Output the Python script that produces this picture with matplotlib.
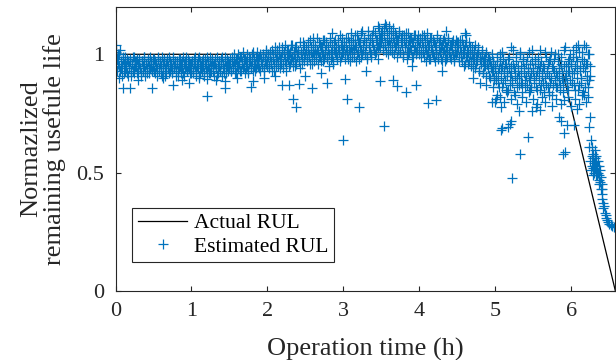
import numpy as np
import matplotlib
matplotlib.use("Agg")
import matplotlib.pyplot as plt

# ---------------- data ----------------
# Actual RUL (normalized)
actual_t = [0.0, 5.83, 6.58]
actual_rul = [1.0, 1.0, 0.0]

# Estimated RUL, main band A: one reading every 0.0125 h from 0 to 6.25 h (values in %)
band_step_h = 0.0125
band_pct = [
    # 0.0 - 0.4875
    101, 104, 98, 96, 100, 93, 97, 95, 99, 92, 96, 94, 98, 91, 95, 97, 93, 96, 99, 94,
    92, 97, 95, 98, 93, 96, 94, 91, 97, 95, 99, 93, 96, 92, 98, 95, 94, 97, 93, 96,
    # 0.5 - 0.9875
    95, 98, 92, 96, 94, 99, 93, 97, 95, 91, 96, 98, 94, 92, 97, 95, 99, 93, 96, 94,
    92, 98, 95, 97, 93, 96, 91, 94, 98, 95, 97, 92, 96, 94, 99, 93, 95, 97, 92, 96,
    # 1.0 - 1.4875
    94, 97, 92, 96, 99, 93, 95, 98, 91, 96, 94, 97, 95, 92, 98, 96, 93, 97, 94, 99,
    92, 95, 97, 93, 96, 98, 94, 91, 95, 97, 93, 96, 99, 94, 92, 97, 95, 98, 93, 96,
    # 1.5 - 1.9875
    95, 98, 93, 97, 94, 100, 96, 92, 98, 95, 97, 93, 99, 96, 94, 98, 92, 97, 95, 100,
    93, 96, 98, 94, 97, 101, 95, 93, 99, 96, 98, 94, 100, 97, 95, 99, 93, 98, 96, 101,
    # 2.0 - 2.4875
    97, 100, 94, 99, 96, 102, 98, 93, 101, 97, 99, 95, 103, 98, 96, 101, 94, 100, 98, 104,
    96, 99, 102, 95, 101, 98, 104, 97, 100, 95, 103, 99, 101, 97, 105, 100, 96, 102, 99, 104,
    # 2.5 - 2.9875
    100, 103, 97, 102, 99, 106, 101, 96, 104, 100, 102, 98, 107, 101, 99, 104, 97, 103, 100, 106,
    98, 102, 105, 99, 103, 100, 107, 98, 102, 96, 105, 101, 103, 99, 106, 102, 97, 104, 100, 107,
    # 3.0 - 3.4875
    101, 105, 98, 103, 100, 107, 102, 97, 106, 101, 104, 99, 108, 103, 100, 106, 98, 105, 102, 109,
    100, 104, 107, 101, 105, 99, 110, 103, 106, 100, 108, 104, 102, 109, 101, 106, 103, 111, 104, 107,
    # 3.5 - 3.9875
    105, 110, 102, 108, 104, 112, 106, 100, 109, 104, 107, 101, 111, 105, 103, 108, 99, 106, 103, 109,
    101, 105, 108, 100, 106, 103, 109, 98, 104, 101, 107, 102, 105, 99, 108, 103, 100, 106, 102, 108,
    # 4.0 - 4.4875
    103, 107, 99, 105, 101, 108, 103, 97, 106, 101, 104, 98, 107, 102, 100, 105, 97, 103, 100, 107,
    99, 102, 106, 98, 104, 101, 107, 97, 103, 99, 106, 101, 104, 98, 105, 100, 97, 104, 101, 106,
    # 4.5 - 4.9875
    101, 105, 97, 103, 99, 106, 100, 95, 104, 99, 102, 96, 105, 100, 97, 103, 94, 101, 98, 104,
    96, 100, 103, 93, 99, 97, 102, 92, 98, 95, 101, 96, 99, 91, 97, 94, 100, 93, 96, 90,
    # 5.0 - 5.4875
    95, 89, 99, 92, 86, 97, 94, 101, 88, 93, 96, 85, 91, 98, 94, 87, 103, 92, 89, 96,
    84, 93, 99, 90, 95, 87, 101, 92, 88, 97, 94, 86, 91, 99, 93, 89, 96, 85, 92, 102,
    # 5.5 - 5.9875
    94, 88, 98, 91, 85, 96, 93, 102, 87, 92, 95, 84, 90, 99, 93, 86, 97, 91, 88, 101,
    83, 94, 98, 89, 92, 86, 100, 93, 87, 96, 90, 84, 95, 103, 91, 88, 97, 85, 93, 100,
    # 6.0 - 6.25
    96, 88, 102, 92, 85, 99, 94, 104, 87, 95, 90, 101, 84, 97, 93, 103, 89, 96, 86, 100, 91,
]

# Estimated RUL, main band B: readings between those of band A (offset 0.00625 h), in %
band_b_pct = [
    # 0.00625 - 0.49375
    97, 93, 100, 95, 102, 94, 91, 98, 96, 93, 99, 95, 92, 97, 94, 98, 91, 96, 93, 99,
    95, 97, 92, 96, 98, 94, 92, 97, 93, 99, 95, 91, 96, 94, 97, 92, 99, 95, 93, 98,
    # 0.5 - 1.0
    93, 97, 95, 91, 98, 94, 96, 92, 99, 95, 93, 97, 91, 96, 98, 94, 92, 97, 95, 93,
    99, 94, 96, 91, 97, 93, 98, 95, 92, 96, 94, 99, 91, 97, 95, 93, 98, 94, 96, 92,
    # 1.0 - 1.5
    97, 93, 98, 95, 91, 96, 94, 99, 92, 97, 95, 93, 98, 91, 96, 94, 99, 95, 92, 97,
    93, 98, 95, 91, 96, 94, 99, 92, 97, 95, 93, 98, 91, 96, 94, 99, 92, 95, 97, 94,
    # 1.5 - 2.0
    96, 93, 99, 95, 97, 92, 98, 95, 100, 94, 96, 99, 93, 97, 101, 95, 98, 94, 96, 92,
    99, 97, 95, 100, 93, 98, 96, 94, 101, 97, 95, 99, 93, 98, 96, 100, 94, 97, 102, 95,
    # 2.0 - 2.5
    99, 95, 101, 97, 93, 100, 96, 103, 98, 95, 102, 97, 100, 94, 99, 103, 96, 101, 97, 93,
    102, 98, 100, 96, 104, 99, 95, 101, 98, 103, 96, 100, 102, 97, 94, 101, 98, 105, 97, 100,
    # 2.5 - 3.0
    102, 98, 105, 100, 96, 103, 99, 107, 101, 97, 104, 100, 102, 96, 105, 99, 103, 101, 97, 106,
    100, 104, 98, 102, 95, 105, 101, 99, 104, 97, 102, 106, 100, 98, 103, 101, 108, 99, 104, 102,
    # 3.0 - 3.5
    104, 100, 107, 102, 98, 105, 101, 109, 103, 99, 106, 102, 104, 97, 108, 101, 105, 103, 99, 110,
    102, 106, 100, 104, 98, 108, 103, 101, 107, 99, 105, 110, 102, 100, 106, 104, 98, 108, 103, 109,
    # 3.5 - 4.0
    107, 103, 111, 105, 101, 109, 104, 112, 106, 102, 110, 103, 107, 100, 109, 104, 106, 102, 110, 101,
    107, 104, 99, 108, 103, 105, 101, 109, 100, 106, 103, 107, 99, 105, 102, 108, 101, 104, 106, 100,
    # 4.0 - 4.5
    105, 101, 108, 103, 99, 106, 102, 109, 100, 104, 98, 107, 103, 101, 106, 99, 104, 102, 108, 98,
    105, 101, 103, 97, 106, 102, 100, 105, 98, 103, 107, 101, 99, 104, 102, 106, 98, 103, 100, 105,
    # 4.5 - 5.0
    103, 99, 106, 101, 97, 104, 100, 102, 96, 105, 99, 101, 97, 103, 95, 100, 98, 102, 94, 99,
    97, 101, 93, 98, 96, 100, 92, 97, 95, 99, 91, 96, 94, 98, 90, 95, 93, 97, 89, 94,
    # 5.0 - 5.5
    91, 97, 88, 94, 100, 90, 95, 86, 98, 92, 89, 96, 93, 85, 99, 91, 95, 88, 102, 94,
    90, 97, 86, 93, 91, 100, 88, 95, 84, 98, 92, 89, 96, 87, 94, 101, 90, 86, 97, 93,
    # 5.5 - 6.0
    90, 96, 86, 93, 99, 89, 95, 85, 97, 91, 88, 94, 101, 87, 92, 96, 84, 98, 90, 95,
    87, 93, 100, 86, 91, 97, 89, 94, 85, 99, 92, 88, 102, 90, 95, 86, 93, 98, 89, 96,
    # 6.0 - 6.25
    92, 99, 87, 95, 103, 90, 97, 85, 101, 93, 88, 98, 94, 104, 86, 96, 91, 100, 89, 95,
]

# Estimated RUL, scattered readings off the main band (time h, value)
outlier_t = [0.10, 0.19, 0.48, 0.76, 0.97, 1.21, 1.44, 1.21, 1.44, 1.79, 1.81,
             2.19, 2.28, 2.41, 2.58, 2.34, 2.37, 2.79, 3.02, 3.05, 3.21, 3.54, 2.99,
             3.48, 3.65, 3.71, 3.82, 3.96, 4.11, 4.22, 4.95, 5.01, 5.07, 5.08, 5.17,
             5.19, 5.31, 5.32, 5.48, 5.53, 5.59, 5.84, 5.87, 5.91, 5.94, 5.89, 6.23,
             6.23, 6.31, 5.22, 5.92, 6.26, 6.27, 6.04, 6.07, 6.17, 6.25, 5.91,
             5.02, 5.06, 5.11, 5.15, 5.20, 5.26, 5.29, 5.35, 5.40, 5.44, 5.50, 5.55,
             5.62, 5.66, 5.71, 5.75, 5.80, 5.86, 5.96, 6.00, 6.05, 6.10, 6.14, 6.19,
             6.22, 5.43, 5.09, 5.20, 4.99, 4.97,
             0.05, 0.30, 0.62, 0.88, 1.10, 1.32, 1.60, 1.95, 2.10, 2.50, 2.70, 3.30,
             3.90, 4.30, 4.70, 4.80, 4.88,
             3.55, 3.45, 2.85, 4.60, 4.35, 4.62]
outlier_rul = [0.857, 0.857, 0.857, 0.87, 0.88, 0.894, 0.886, 0.823, 0.857, 0.86, 0.886,
               0.869, 0.869, 0.873, 0.857, 0.81, 0.776, 0.878, 0.894, 0.81, 0.776, 0.696, 0.637,
               0.886, 0.89, 0.865, 0.84, 0.869, 0.793, 0.806, 0.80, 0.81, 0.776, 0.68, 0.692,
               0.705, 0.76, 0.578, 0.76, 0.776, 0.764, 0.734, 0.717, 0.667, 0.70, 0.578, 0.692,
               0.608, 0.595, 0.477, 0.586, 0.637, 0.608, 0.70, 0.77, 0.827, 0.734, 0.806,
               0.83, 0.82, 0.80, 0.84, 0.81, 0.83, 0.79, 0.82, 0.80, 0.84, 0.81, 0.79,
               0.82, 0.80, 0.83, 0.78, 0.81, 0.79, 0.82, 0.78, 0.81, 0.79, 0.83, 0.80,
               0.82, 0.65, 0.688, 0.72, 0.80, 0.86,
               0.90, 0.89, 0.90, 0.89, 0.90, 0.89, 0.90, 0.90, 0.91, 0.91, 0.92, 0.93,
               0.95, 0.93, 0.90, 0.88, 0.87,
               1.13, 1.12, 1.09, 1.09, 1.10, 1.08]

# Estimated RUL, final degradation phase (time h, value)
end_t = [6.25, 6.26, 6.27, 6.27, 6.28, 6.28, 6.29, 6.29, 6.30, 6.30, 6.31, 6.31,
         6.32, 6.32, 6.33, 6.33, 6.34, 6.34, 6.35, 6.35, 6.36, 6.36, 6.37, 6.37,
         6.38, 6.38, 6.39, 6.39, 6.40, 6.40, 6.41, 6.41, 6.42, 6.42, 6.43, 6.44,
         6.45, 6.46, 6.47, 6.48, 6.50, 6.52, 6.54, 6.56, 6.58]
end_rul = [0.55, 0.51, 0.57, 0.53, 0.49, 0.56, 0.52, 0.58, 0.54, 0.50, 0.56, 0.52,
           0.49, 0.55, 0.51, 0.57, 0.53, 0.49, 0.55, 0.50, 0.47, 0.53, 0.49, 0.45,
           0.51, 0.46, 0.48, 0.43, 0.45, 0.41, 0.43, 0.39, 0.37, 0.35, 0.36, 0.33,
           0.32, 0.31, 0.30, 0.29, 0.285, 0.28, 0.275, 0.27, 0.27]

x_ticks = [0, 1, 2, 3, 4, 5, 6]
y_ticks = [0, 0.5, 1]
y_tick_labels = ["0", "0.5", "1"]

# ---------------- plot ----------------
plt.rcParams['font.family'] = ['Liberation Serif', 'DejaVu Serif']
plt.rcParams['mathtext.fontset'] = 'stix'

fig = plt.figure(figsize=(6.16, 3.60), dpi=100)
ax = fig.add_axes([0.1875, 0.1917, 0.8115, 0.789])

blue = '#0072BD'
band_t = np.arange(len(band_pct)) * band_step_h
band_b_t = np.arange(len(band_b_pct)) * band_step_h + band_step_h / 2
est_t = np.concatenate([band_t, band_b_t, outlier_t, end_t])
est_v = np.concatenate([np.array(band_pct) / 100.0, np.array(band_b_pct) / 100.0,
                        outlier_rul, end_rul])

ax.plot(actual_t, actual_rul, color='black', lw=0.9, label='Actual RUL', zorder=1)
ax.plot(est_t, est_v, linestyle='none', marker='+', markersize=7.0,
        markeredgewidth=0.9, color=blue, label='Estimated RUL', zorder=2)

ax.set_xlim(0, 6.58)
ax.set_ylim(0, 1.2)
ax.set_xticks(x_ticks)
ax.set_yticks(y_ticks)
ax.set_yticklabels(y_tick_labels)

spine_c = '#262626'
for s in ax.spines.values():
    s.set_color(spine_c)
    s.set_linewidth(0.8)
ax.tick_params(direction='in', length=3.8, width=0.8, color=spine_c,
               top=True, right=True, labelsize=16, labelcolor='#262626')
ax.tick_params(axis='x', pad=8)
ax.tick_params(axis='y', pad=8)

ax.set_xlabel('Operation time (h)', fontsize=19, color='#262626')
ax.xaxis.set_label_coords(0.5, -0.165)
ax.set_ylabel('Normazlized\nremaining usefule life', fontsize=19,
              color='#262626', linespacing=1.0)
ax.yaxis.set_label_coords(-0.10, 0.5)

leg = ax.legend(loc='upper left', bbox_to_anchor=(0.034, 0.293), fontsize=15.5,
                frameon=True, fancybox=False, framealpha=1, edgecolor=spine_c,
                handlelength=2.3, handletextpad=0.3, borderpad=0.25,
                labelspacing=0.15, borderaxespad=0)
leg.get_frame().set_linewidth(0.8)

fig.savefig('out.png', dpi=100)
